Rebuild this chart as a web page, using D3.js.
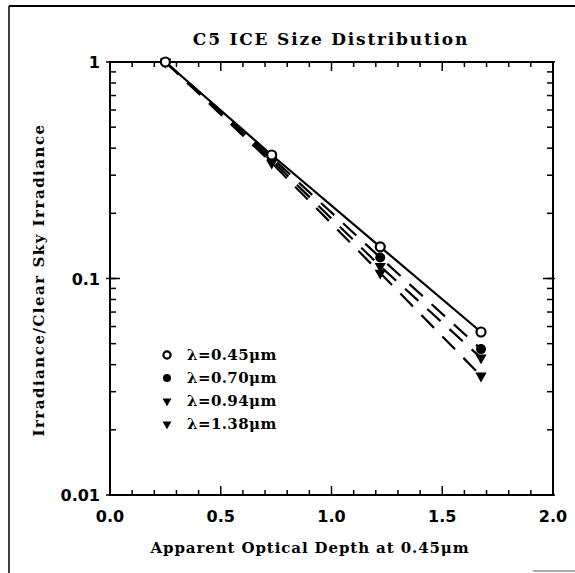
<!DOCTYPE html>
<html><head><meta charset="utf-8">
<script src="https://cdn.jsdelivr.net/npm/d3@7"></script>
<style>body{margin:0;background:#fff}</style>
</head><body>
<script>
const depth = [0.25, 0.73, 1.22, 1.675];
const seriesNames = ["λ=0.45μm", "λ=0.70μm", "λ=0.94μm", "λ=1.38μm"];
const v045 = [1.0, 0.372, 0.140, 0.0566];
const v070 = [1.0, 0.362, 0.125, 0.0472];
const v094 = [1.0, 0.352, 0.114, 0.0430];
const v138 = [1.0, 0.342, 0.106, 0.0355];
const xTicks = [0.0, 0.5, 1.0, 1.5, 2.0];
const xTickLabels = ["0.0", "0.5", "1.0", "1.5", "2.0"];
const yTicks = [1, 0.1, 0.01];
const yTickLabels = ["1", "0.1", "0.01"];

const series = [
  {name: seriesNames[0], vals: v045, marker: "open", dash: null},
  {name: seriesNames[1], vals: v070, marker: "fill", dash: "18,12"},
  {name: seriesNames[2], vals: v094, marker: "tri", dash: "18,12"},
  {name: seriesNames[3], vals: v138, marker: "tri", dash: "18,12"}
];

const W = 575, H = 573;
const L = 110, R = 553, T = 62, B = 495;
const svg = d3.select("body").append("svg").attr("width", W).attr("height", H);
const x = d3.scaleLinear().domain([0, 2]).range([L, R]);
const y = d3.scaleLog().domain([0.01, 1]).range([B, T]);
const fontB = "'DejaVu Serif', serif";

// frame of scanned figure
svg.append("line").attr("x1", 9).attr("x2", W).attr("y1", 6).attr("y2", 6).attr("stroke", "#000").attr("stroke-width", 2);
svg.append("line").attr("x1", 9).attr("x2", 9).attr("y1", 6).attr("y2", H).attr("stroke", "#000").attr("stroke-width", 1.5);
svg.append("line").attr("x1", 533).attr("x2", W).attr("y1", 571).attr("y2", 571).attr("stroke", "#555").attr("stroke-width", 1);

// plot box
svg.append("rect").attr("x", L).attr("y", T).attr("width", R - L).attr("height", B - T)
  .attr("fill", "none").attr("stroke", "#000").attr("stroke-width", 2);

// x ticks
const xMinor = d3.range(0, 2.0001, 0.1);
xMinor.forEach(v => {
  const major = Math.abs(v * 2 - Math.round(v * 2)) < 1e-6;
  const len = major ? 9 : 5;
  svg.append("line").attr("x1", x(v)).attr("x2", x(v)).attr("y1", B).attr("y2", B - len).attr("stroke", "#000").attr("stroke-width", 1.5);
  svg.append("line").attr("x1", x(v)).attr("x2", x(v)).attr("y1", T).attr("y2", T + len).attr("stroke", "#000").attr("stroke-width", 1.5);
});
xTicks.forEach((v, i) => {
  svg.append("text").attr("x", x(v)).attr("y", 522).attr("text-anchor", "middle")
    .attr("font-family", "'DejaVu Sans', sans-serif").attr("font-size", 16).attr("font-weight", "bold").text(xTickLabels[i]);
});

// y ticks
const yMinor = [];
[0.01, 0.1].forEach(d => { for (let k = 1; k < 10; k++) yMinor.push(d * k); });
yMinor.forEach(v => {
  svg.append("line").attr("x1", L).attr("x2", L + 6).attr("y1", y(v)).attr("y2", y(v)).attr("stroke", "#000").attr("stroke-width", 1.5);
  svg.append("line").attr("x1", R).attr("x2", R - 6).attr("y1", y(v)).attr("y2", y(v)).attr("stroke", "#000").attr("stroke-width", 1.5);
});
yTicks.forEach((v, i) => {
  svg.append("line").attr("x1", L - 4).attr("x2", L + 10).attr("y1", y(v)).attr("y2", y(v)).attr("stroke", "#000").attr("stroke-width", 1.5);
  svg.append("line").attr("x1", R + 2).attr("x2", R - 10).attr("y1", y(v)).attr("y2", y(v)).attr("stroke", "#000").attr("stroke-width", 1.5);
  svg.append("text").attr("x", L - 10).attr("y", y(v) + 6).attr("text-anchor", "end")
    .attr("font-family", "'DejaVu Sans', sans-serif").attr("font-size", 16).attr("font-weight", "bold").text(yTickLabels[i]);
});

// title & axis labels
svg.append("text").attr("x", 331).attr("y", 45).attr("text-anchor", "middle")
  .attr("font-family", fontB).attr("font-size", 17).attr("letter-spacing", 1.8).attr("font-weight", "bold").text("C5 ICE Size Distribution");
svg.append("text").attr("x", 310).attr("y", 553).attr("text-anchor", "middle")
  .attr("font-family", fontB).attr("font-size", 15).attr("letter-spacing", 0.9).attr("font-weight", "bold").text("Apparent Optical Depth at 0.45μm");
svg.append("text").attr("transform", "translate(44,280) rotate(-90)").attr("text-anchor", "middle")
  .attr("font-family", fontB).attr("font-size", 15).attr("letter-spacing", 1.5).attr("font-weight", "bold").text("Irradiance/Clear Sky Irradiance");

// lines
const line = d3.line().x((d, i) => x(depth[i])).y(d => y(d));
series.slice().reverse().forEach(s => {
  svg.append("path").attr("d", line(s.vals)).attr("fill", "none").attr("stroke", "#000")
    .attr("stroke-width", 2.2).attr("stroke-dasharray", s.dash);
});

// markers
function drawMarker(g, type, cx, cy, scale) {
  const k = scale || 1;
  if (type === "open") {
    g.append("circle").attr("cx", cx).attr("cy", cy).attr("r", 4.5 * k).attr("fill", "#fff").attr("stroke", "#000").attr("stroke-width", 2.2);
  } else if (type === "fill") {
    g.append("circle").attr("cx", cx).attr("cy", cy).attr("r", 5 * k).attr("fill", "#000");
  } else {
    g.append("path").attr("d", d3.symbol().type(d3.symbolTriangle).size(55 * k * k)()).attr("transform", `translate(${cx},${cy}) rotate(180)`).attr("fill", "#000");
  }
}
const mg = svg.append("g");
series.slice().reverse().forEach(s => {
  s.vals.forEach((v, i) => drawMarker(mg, s.marker, x(depth[i]), y(v)));
});

// legend
const legY = [355, 378, 401, 424];
series.forEach((s, i) => {
  drawMarker(svg, s.marker, 167, legY[i], 0.8);
  svg.append("text").attr("x", 187).attr("y", legY[i] + 5).attr("font-family", fontB)
    .attr("font-size", 15).attr("letter-spacing", 0.4).attr("font-weight", "bold").text(s.name);
});
</script>
</body></html>
